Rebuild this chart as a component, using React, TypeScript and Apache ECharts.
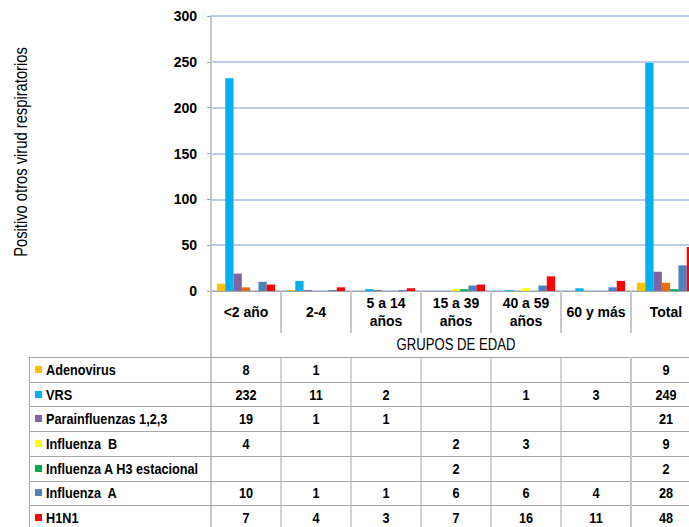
import React, { useEffect, useRef } from "react";
import * as echarts from "echarts";

const categories = ["<2 año", "2-4", "5 a 14\naños", "15 a 39\naños", "40 a 59\naños", "60 y más", "Total"];
const seriesNames = [
  "Adenovirus",
  "VRS",
  "Parainfluenzas 1,2,3",
  "Influenza  B",
  "Influenza A H3 estacional",
  "Influenza  A",
  "H1N1",
];
const adenovirus = [8, 1, null, null, null, null, 9];
const vrs = [232, 11, 2, null, 1, 3, 249];
const parainfluenzas = [19, 1, 1, null, null, null, 21];
const influenzaB = [4, null, null, 2, 3, null, 9];
const influenzaAH3 = [null, null, null, 2, null, null, 2];
const influenzaA = [10, 1, 1, 6, 6, 4, 28];
const h1n1 = [7, 4, 3, 7, 16, 11, 48];
const seriesValues = [adenovirus, vrs, parainfluenzas, influenzaB, influenzaAH3, influenzaA, h1n1];
const seriesColors = ["#FFC000", "#00B0F0", "#8064A2", "#FFFF00", "#00B050", "#4F81BD", "#FF0000"];
// per-bar colour overrides seen in the picture (Influenza B drawn orange in two groups)
const influenzaBBarColors = ["#E46C0A", null, null, null, null, null, "#E46C0A"];
const yMax = 300;
const yInterval = 50;
const yTitle = "Positivo otros virud respiratorios";
const xTitle = "GRUPOS DE EDAD";

const FONT = '"Liberation Sans", Arial, sans-serif';
const NARROW_SCALE = 0.82;

export default function App() {
  const ref = useRef<HTMLDivElement>(null);
  useEffect(() => {
    if (!ref.current) return;
    const chart = echarts.init(ref.current, undefined, { renderer: "svg" });
    const gridLeft = 211;
    const gridTop = 16;
    const gridW = 490;
    const gridH = 275;
    const option: any = {
      animation: false,
      backgroundColor: "#ffffff",
      grid: { left: gridLeft, top: gridTop, width: gridW, height: gridH, containLabel: false },
      xAxis: {
        type: "category",
        data: categories,
        axisLine: { show: true, lineStyle: { color: "#A6A6A6", width: 1 } },
        axisTick: { show: true, length: 42, interval: 0, lineStyle: { color: "#C8C8C8", width: 2 } },
        axisLabel: {
          interval: 0,
          margin: 21,
          verticalAlign: "middle",
          lineHeight: 18,
          fontFamily: FONT,
          fontWeight: "bold",
          fontSize: 14,
          color: "#000",
        },
        splitLine: { show: false },
      },
      yAxis: {
        type: "value",
        min: 0,
        max: yMax,
        interval: yInterval,
        axisLine: { show: true, lineStyle: { color: "#C8C8C8", width: 2 } },
        axisTick: { show: true, length: 4, lineStyle: { color: "#A6A6A6" } },
        axisLabel: { margin: 14, fontFamily: FONT, fontWeight: "bold", fontSize: 14, color: "#000" },
        splitLine: { show: true, lineStyle: { color: "#BCCDEB", width: 2 } },
      },
      series: seriesNames.map((name, si) => ({
        name,
        type: "bar",
        barGap: "0%",
        barCategoryGap: "17%",
        itemStyle: { color: seriesColors[si] },
        data: seriesValues[si].map((v, ci) => {
          if (si === 3 && influenzaBBarColors[ci] && v != null) {
            return { value: v, itemStyle: { color: influenzaBBarColors[ci] } };
          }
          return v;
        }),
      })),
    };
    chart.setOption(option);

    const centers = categories.map((_, i) => chart.convertToPixel({ xAxisIndex: 0 }, i) as number);
    const band = centers[1] - centers[0];
    const plotLeft = centers[0] - band / 2;
    const plotRight = centers[centers.length - 1] + band / 2;
    const axisY = chart.convertToPixel({ yAxisIndex: 0 }, 0) as number;

    const tableTop = 357;
    const rowH = 24.7;
    const tableLeft = 29;
    const bottom = 540;
    const graphics: any[] = [];
    const lineGray = "#A6A6A6";
    const lightGray = "#C8C8C8";

    graphics.push({
      type: "text",
      x: 20,
      y: 152,
      rotation: Math.PI / 2,
      scaleX: NARROW_SCALE,
      style: { text: yTitle, fontFamily: FONT, fontSize: 18, fill: "#000", align: "center", verticalAlign: "middle" },
    });
    graphics.push({
      type: "text",
      x: (plotLeft + plotRight) / 2,
      y: 345,
      scaleX: NARROW_SCALE,
      style: { text: xTitle, fontFamily: FONT, fontSize: 16, fill: "#000", align: "center", verticalAlign: "middle" },
    });
    // vertical line continuing the value axis down through the table
    graphics.push({
      type: "line",
      shape: { x1: plotLeft, y1: axisY, x2: plotLeft, y2: bottom },
      style: { stroke: lightGray, lineWidth: 2 },
    });
    // table horizontal lines
    for (let r = 0; r <= seriesNames.length; r++) {
      const y = Math.round(tableTop + r * rowH) + 0.5;
      graphics.push({
        type: "line",
        shape: { x1: tableLeft, y1: y, x2: plotRight + 20, y2: y },
        style: { stroke: lineGray, lineWidth: 1 },
      });
    }
    // table vertical lines
    graphics.push({
      type: "line",
      shape: { x1: tableLeft + 0.5, y1: tableTop, x2: tableLeft + 0.5, y2: bottom },
      style: { stroke: lineGray, lineWidth: 1 },
    });
    for (let i = 1; i <= categories.length; i++) {
      const x = plotLeft + i * band;
      graphics.push({
        type: "line",
        shape: { x1: x, y1: tableTop, x2: x, y2: bottom },
        style: { stroke: i === categories.length - 1 ? lightGray : lineGray, lineWidth: i === categories.length - 1 ? 2 : 1 },
      });
    }
    // table rows
    seriesNames.forEach((name, r) => {
      const cy = tableTop + r * rowH + rowH / 2;
      graphics.push({
        type: "rect",
        shape: { x: 35, y: Math.round(cy - 3.5), width: 7, height: 7 },
        style: { fill: seriesColors[r] },
      });
      graphics.push({
        type: "text",
        x: 46,
        y: cy,
        scaleX: NARROW_SCALE,
        style: { text: name, fontFamily: FONT, fontWeight: "bold", fontSize: 15.5, fill: "#000", align: "left", verticalAlign: "middle" },
      });
      seriesValues[r].forEach((v, c) => {
        if (v == null) return;
        graphics.push({
          type: "text",
          x: centers[c],
          y: cy,
          scaleX: NARROW_SCALE,
          style: { text: String(v), fontFamily: FONT, fontWeight: "bold", fontSize: 15.5, fill: "#000", align: "center", verticalAlign: "middle" },
        });
      });
    });
    chart.setOption({ graphic: graphics });

    return () => chart.dispose();
  }, []);

  return (
    <div style={{ position: "fixed", left: 0, top: 0, width: 689, height: 527, overflow: "hidden", background: "#fff" }}>
      <div ref={ref} style={{ width: 730, height: 527 }} />
    </div>
  );
}
